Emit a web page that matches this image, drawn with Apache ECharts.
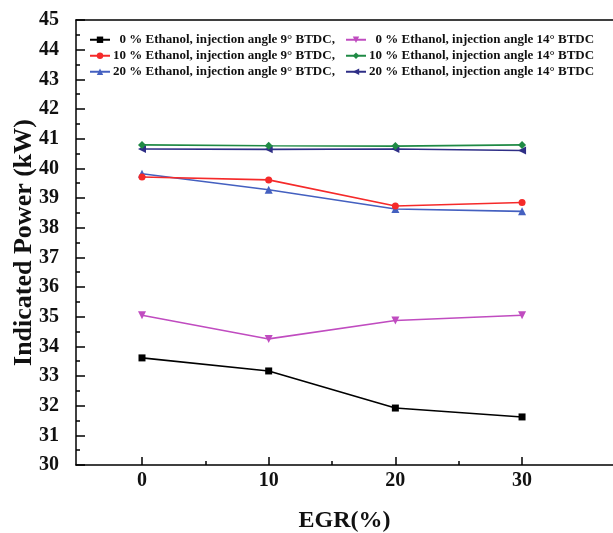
<!DOCTYPE html>
<html>
<head>
<meta charset="utf-8">
<script src="https://cdn.jsdelivr.net/npm/echarts@6/dist/echarts.min.js"></script>
<style>html,body{margin:0;padding:0;background:#fff;}#c{width:613px;height:533px;}</style>
</head>
<body>
<div id="c"></div>
<script>
const egr = [0, 10, 20, 30];
const seriesNames = [
  '0 % Ethanol, injection angle 9° BTDC,',
  '10 % Ethanol, injection angle 9° BTDC,',
  '20 % Ethanol, injection angle 9° BTDC,',
  '0 % Ethanol, injection angle 14° BTDC',
  '10 % Ethanol, injection angle 14° BTDC',
  '20 % Ethanol, injection angle 14° BTDC'
];
const e0_9 = [33.61, 33.17, 31.92, 31.62];
const e10_9 = [39.71, 39.61, 38.73, 38.85];
const e20_9 = [39.82, 39.28, 38.63, 38.55];
const e0_14 = [35.05, 34.25, 34.87, 35.05];
const e10_14 = [40.79, 40.76, 40.75, 40.79];
const e20_14 = [40.65, 40.64, 40.65, 40.60];
const xTicks = [0, 10, 20, 30];
const xMinorTicks = [5, 15, 25];

const allData = [e0_9, e10_9, e20_9, e0_14, e10_14, e20_14];
const colors = ['#000000', '#f52a2a', '#4460c0', '#c04cc0', '#1f8a45', '#2e2e86'];
const symbols = ['rect', 'circle', 'triangle', 'triangle', 'diamond', 'triangle'];
const rotates = [0, 0, 0, 180, 0, 90];
const sizes = [7, 7, 8, 8, 8, 8];
const FONT = 'Liberation Serif';

const chart = echarts.init(document.getElementById('c'), null, {renderer: 'canvas'});
const series = allData.map((d, i) => ({
  name: seriesNames[i],
  type: 'line',
  xAxisIndex: 0,
  data: d.map((v, j) => [egr[j], v]),
  symbol: symbols[i],
  symbolRotate: rotates[i],
  symbolSize: sizes[i],
  showSymbol: true,
  itemStyle: {color: colors[i]},
  lineStyle: {color: colors[i], width: 1.6},
  z: 10 - i
}));

const legendCommon = {
  orient: 'vertical',
  itemWidth: 20,
  itemHeight: 8,
  itemGap: 2.5,
  padding: 0,
  textStyle: {fontFamily: FONT, fontWeight: 'bold', fontSize: 13, color: '#111', lineHeight: 13.5, padding: [0, 0, 0, -2]},
  formatter: n => (n.startsWith('0 ') ? '\u2007' + n : n)
};

chart.setOption({
  backgroundColor: '#ffffff',
  animation: false,
  grid: {left: 76, top: 20, right: 0, bottom: 68, containLabel: false, outerBoundsMode: 'none'},
  legend: [
    Object.assign({}, legendCommon, {left: 89, top: 33, data: seriesNames.slice(0, 3)}),
    Object.assign({}, legendCommon, {left: 345, top: 33, data: seriesNames.slice(3, 6)})
  ],
  xAxis: [
    {
      type: 'value', min: -5.21, max: 37.18, position: 'bottom',
      name: 'EGR(%)', nameLocation: 'middle', nameGap: 44,
      nameTextStyle: {fontFamily: FONT, fontWeight: 'bold', fontSize: 24, color: '#111'},
      axisLine: {show: true, onZero: false, lineStyle: {color: '#000', width: 1.5}},
      axisTick: {show: true, inside: true, length: 8, customValues: xTicks, lineStyle: {color: '#000', width: 1.5}},
      axisLabel: {show: true, customValues: xTicks, margin: 6, fontFamily: FONT, fontWeight: 'bold', fontSize: 20, color: '#111'},
      splitLine: {show: false}
    },
    {
      type: 'value', min: -5.21, max: 37.18, position: 'bottom',
      axisLine: {show: false, onZero: false},
      axisTick: {show: true, inside: true, length: 4, customValues: xMinorTicks, lineStyle: {color: '#000', width: 1.5}},
      axisLabel: {show: false},
      splitLine: {show: false}
    },
    {
      type: 'value', min: -5.21, max: 37.18, position: 'top',
      axisLine: {show: true, onZero: false, lineStyle: {color: '#000', width: 1.5}},
      axisTick: {show: false}, axisLabel: {show: false}, splitLine: {show: false}
    }
  ],
  yAxis: {
    type: 'value', min: 30, max: 45, interval: 1, position: 'left',
    name: 'Indicated Power (kW)', nameLocation: 'middle', nameGap: 39, nameMoveOverlap: false,
    nameTextStyle: {fontFamily: FONT, fontWeight: 'bold', fontSize: 26, color: '#111'},
    axisLine: {show: true, onZero: false, lineStyle: {color: '#000', width: 1.5}},
    axisTick: {show: true, inside: true, length: 9, lineStyle: {color: '#000', width: 1.5}},
    minorTick: {show: true, splitNumber: 2, length: 4, lineStyle: {color: '#000', width: 1.5}},
    axisLabel: {margin: 17, fontFamily: FONT, fontWeight: 'bold', fontSize: 20, color: '#111'},
    splitLine: {show: false}
  },
  series: series
});
</script>
</body>
</html>
